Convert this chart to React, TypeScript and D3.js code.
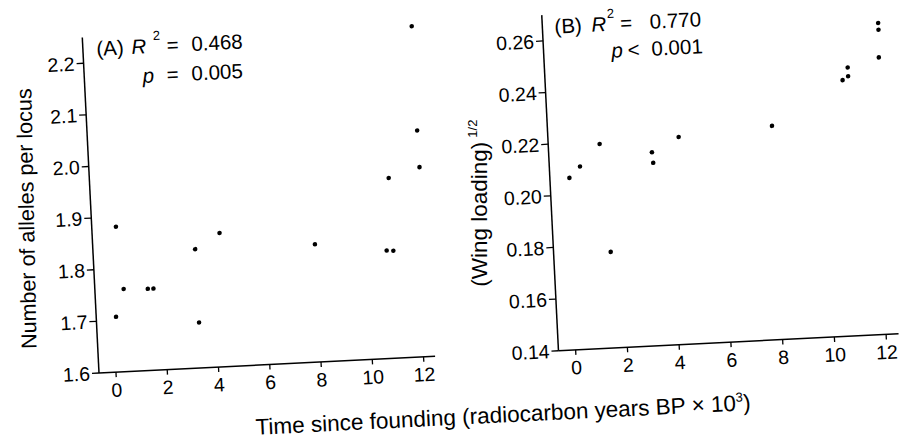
import React from 'react';
import * as d3 from 'd3';

// ---- data ----
const xTicks = [0, 2, 4, 6, 8, 10, 12];
const yTicksA = [1.6, 1.7, 1.8, 1.9, 2.0, 2.1, 2.2];
const yTicksB = [0.14, 0.16, 0.18, 0.2, 0.22, 0.24, 0.26];

// Panel A: number of alleles per locus vs time since founding
const timeA = [0.28, 0.11, 0.46, 1.4, 1.62, 3.32, 3.33, 4.3, 7.99, 10.77, 11.03, 10.99, 12.18, 12.19, 12.21];
const allelesA = [1.881, 1.707, 1.76, 1.758, 1.758, 1.83, 1.688, 1.859, 1.828, 1.809, 1.808, 1.949, 2.24, 2.038, 1.967];

// Panel B: (wing loading)^1/2 vs time since founding
const timeB = [0.09, 0.52, 1.32, 1.54, 3.32, 3.35, 4.38, 8.0, 10.81, 11.03, 11.03, 12.25, 12.29, 12.29];
const wingB = [0.2066, 0.2108, 0.2191, 0.1772, 0.2149, 0.2108, 0.2203, 0.2228, 0.2391, 0.2405, 0.2439, 0.2472, 0.2579, 0.2605];

const FONT = '"Liberation Sans", Arial, Helvetica, sans-serif';

type PanelProps = {
  ox: number;
  oy: number;
  x: d3.ScaleLinear<number, number>;
  y: d3.ScaleLinear<number, number>;
  yTicks: number[];
  fmt: (v: number) => string;
  xs: number[];
  ys: number[];
};

function Panel({ ox, oy, x, y, yTicks, fmt, xs, ys }: PanelProps) {
  const [x0, x1] = x.range();
  const [y0, y1] = y.range();
  return (
    <g transform={`translate(${ox},${oy})`}>
      <line x1={x0} y1={0} x2={x1} y2={0} stroke="#000" strokeWidth={1.5} />
      <line x1={0} y1={y0} x2={0} y2={y1} stroke="#000" strokeWidth={1.5} />
      {xTicks.map((t) => (
        <g key={'x' + t}>
          <line x1={x(t)} x2={x(t)} y1={0} y2={5} stroke="#000" strokeWidth={1.3} />
          <text x={x(t)} y={24.5} textAnchor="middle" fontSize={19.5} fontFamily={FONT}>
            {t}
          </text>
        </g>
      ))}
      {yTicks.map((t) => (
        <g key={'y' + t}>
          <line x1={-7} x2={0} y1={y(t)} y2={y(t)} stroke="#000" strokeWidth={1.3} />
          <text x={-9} y={y(t)} dy="0.36em" textAnchor="end" fontSize={19.5} fontFamily={FONT}>
            {fmt(t)}
          </text>
        </g>
      ))}
      {xs.map((v, i) => (
        <circle key={i} cx={x(v)} cy={y(ys[i])} r={2.3} fill="#000" />
      ))}
    </g>
  );
}

export default function App() {
  const xA = d3.scaleLinear().domain([-0.662, 12.45]).range([0, 336.5]);
  const yA = d3.scaleLinear().domain([1.6, 2.25]).range([0, -336]);
  const xB = d3.scaleLinear().domain([-0.664, 12.48]).range([0, 340.5]);
  const yB = d3.scaleLinear().domain([0.14, 0.27]).range([0, -336]);
  const bx = 460;
  const by = 0.6;
  const ann = 20.5;

  return (
    <svg
      width={904}
      height={441}
      style={{ position: 'absolute', left: 0, top: 0, background: '#fff' }}
      fontFamily={FONT}
    >
      <rect width={904} height={441} fill="#fff" />
      <g transform="translate(99,373) rotate(-2.85)">
        <Panel ox={0} oy={0} x={xA} y={yA} yTicks={yTicksA} fmt={d3.format('.1f')} xs={timeA} ys={allelesA} />
        <Panel ox={bx} oy={by} x={xB} y={yB} yTicks={yTicksB} fmt={d3.format('.2f')} xs={timeB} ys={wingB} />

        {/* Panel A annotation */}
        <g fontSize={ann}>
          <text x={13.5} y={-317}>(A)</text>
          <text x={48.5} y={-317} fontStyle="italic">R</text>
          <text x={70.5} y={-330} fontSize={13}>2</text>
          <text x={83.8} y={-317}>=</text>
          <text x={108.6} y={-317}>0.468</text>
          <text x={58.3} y={-287.5} fontStyle="italic">p</text>
          <text x={82.3} y={-287.5}>=</text>
          <text x={107.3} y={-287.5}>0.005</text>
        </g>

        {/* Panel B annotation */}
        <g fontSize={ann} transform={`translate(${bx},${by})`}>
          <text x={12.2} y={-317}>(B)</text>
          <text x={49} y={-317} fontStyle="italic">R</text>
          <text x={65} y={-330} fontSize={13}>2</text>
          <text x={78} y={-317}>=</text>
          <text x={107.5} y={-317}>0.770</text>
          <text x={67.7} y={-290} fontStyle="italic">p</text>
          <text x={84} y={-290}>&lt;</text>
          <text x={107.9} y={-290}>0.001</text>
        </g>

        {/* y axis label A */}
        <text
          transform="translate(-57.3,-157.5) rotate(-88.3)"
          textAnchor="middle"
          fontSize={21.5}
        >
          Number of alleles per locus
        </text>

        {/* y axis label B */}
        <text transform={`translate(${bx - 68.5},${by - 67.5}) rotate(-87.15)`} fontSize={22.5}>
          (Wing loading)
          <tspan dx={4} dy={-10} fontSize={13}>1/2</tspan>
        </text>

        {/* shared x axis label */}
        <text x={153.7} y={69.5} fontSize={22.5}>
          Time since founding (radiocarbon years BP × 10
          <tspan dy={-9} fontSize={13}>3</tspan>
          <tspan dy={9}>)</tspan>
        </text>
      </g>
    </svg>
  );
}
